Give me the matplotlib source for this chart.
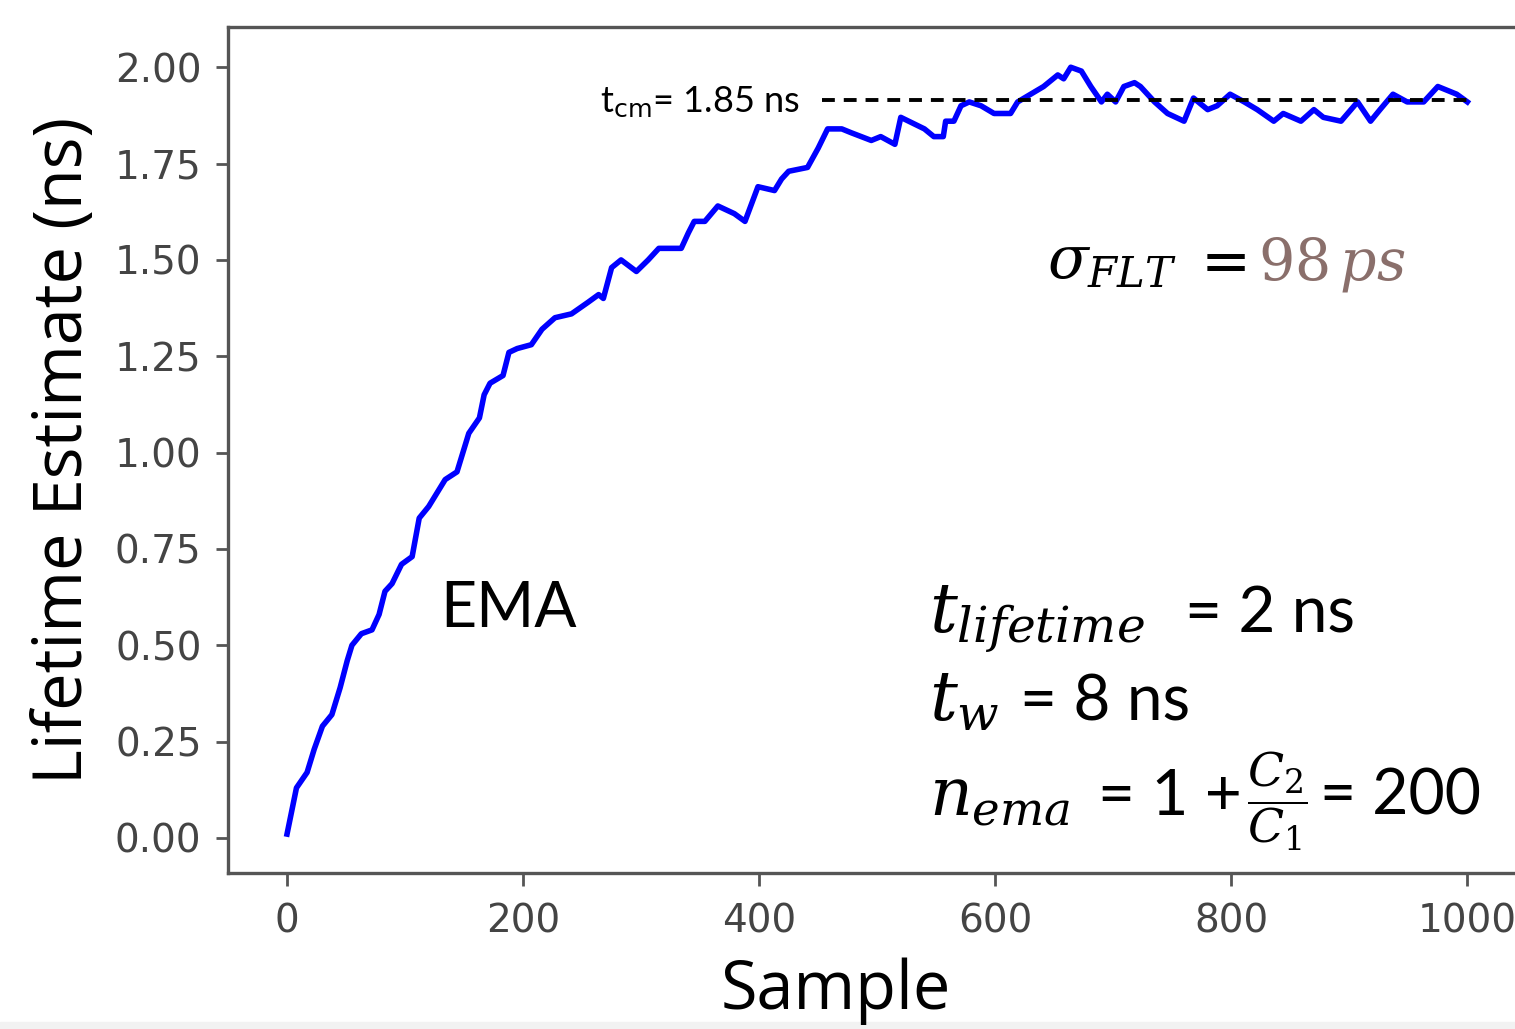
import matplotlib.pyplot as plt
from matplotlib.patches import Rectangle

# EMA lifetime estimate
sample = [0, 8, 17, 23, 30, 38, 45, 51, 55, 63,
          72, 78, 83, 89, 97, 106, 112, 120, 134, 144,
          150, 154, 163, 167, 172, 183, 188, 195, 207, 216,
          227, 241, 255, 264, 268, 275, 283, 296, 306, 315,
          323, 334, 340, 345, 354, 365, 379, 388, 399, 413,
          419, 425, 441, 450, 458, 470, 478, 495, 503, 515,
          520, 540, 548, 556, 558, 565, 571, 578, 588, 599,
          613, 619, 630, 641, 653, 658, 664, 673, 681, 690,
          695, 702, 709, 718, 723, 735, 746, 760, 768, 780,
          788, 799, 811, 822, 836, 844, 859, 870, 878, 893,
          907, 918, 926, 937, 949, 963, 975, 983, 991, 1000]
lifetime = [0.01, 0.13, 0.17, 0.23, 0.29, 0.32, 0.39, 0.46, 0.50, 0.53,
            0.54, 0.58, 0.64, 0.66, 0.71, 0.73, 0.83, 0.86, 0.93, 0.95,
            1.01, 1.05, 1.09, 1.15, 1.18, 1.20, 1.26, 1.27, 1.28, 1.32,
            1.35, 1.36, 1.39, 1.41, 1.40, 1.48, 1.50, 1.47, 1.50, 1.53,
            1.53, 1.53, 1.57, 1.60, 1.60, 1.64, 1.62, 1.60, 1.69, 1.68,
            1.71, 1.73, 1.74, 1.79, 1.84, 1.84, 1.83, 1.81, 1.82, 1.80,
            1.87, 1.84, 1.82, 1.82, 1.86, 1.86, 1.90, 1.91, 1.90, 1.88,
            1.88, 1.91, 1.93, 1.95, 1.98, 1.97, 2.00, 1.99, 1.95, 1.91,
            1.93, 1.91, 1.95, 1.96, 1.95, 1.91, 1.88, 1.86, 1.92, 1.89,
            1.90, 1.93, 1.91, 1.89, 1.86, 1.88, 1.86, 1.89, 1.87, 1.86,
            1.91, 1.86, 1.89, 1.93, 1.91, 1.91, 1.95, 1.94, 1.93, 1.91]

# dashed reference level
ref_start = 453
ref_end = 1000
ref_level = 1.914

xticks = [0, 200, 400, 600, 800, 1000]
yticks = [0.00, 0.25, 0.50, 0.75, 1.00, 1.25, 1.50, 1.75, 2.00]

plt.rcParams['mathtext.fontset'] = 'dejavuserif'

fig = plt.figure(figsize=(15.15, 10.29), dpi=100)
ax = fig.add_axes([0.1505, 0.1516, 0.857, 0.822])

ax.plot(sample, lifetime, color="#0000ff", linewidth=4)
ax.plot([ref_start, ref_end], [ref_level, ref_level], color="black",
        linewidth=2.8, linestyle=(0, (3.3, 2.3)))

ax.set_xlim(-50, 1050)
ax.set_ylim(-0.091, 2.104)
ax.set_xticks(xticks)
ax.set_yticks(yticks)
ax.set_yticklabels(["%.2f" % y for y in yticks])

for sp in ax.spines.values():
    sp.set_color("#555555")
    sp.set_linewidth(2.4)
ax.tick_params(axis="both", length=9, width=2, color="#555555",
               labelsize=28, labelcolor="#444444")
ax.tick_params(axis="y", pad=10)
ax.tick_params(axis="x", pad=12)

ax.set_xlabel("Sample", fontsize=48, family="Open Sans")
ax.set_ylabel("Lifetime Estimate (ns)", fontsize=48, family="Open Sans")
ax.xaxis.set_label_coords(0.468, -0.1)
ax.yaxis.set_label_coords(-0.1, 0.5)

# annotations
ax.text(265, 1.885, r"t$_{\mathsf{cm}}$= 1.85 ns", fontsize=26, family="Lato",
        va="baseline")
ax.text(130, 0.548, "EMA", fontsize=45, family="Lato", va="baseline")
ax.text(644, 1.45, r"$\sigma_{FLT}$", fontsize=43, va="baseline")
ax.text(764, 1.45, r"$=$", fontsize=43, va="baseline")
ax.text(823, 1.45, r"$98\,ps$", fontsize=41, va="baseline", color="#8a6f6b")

ax.text(544, 0.534, r"$t_{lifetime}$", fontsize=50, va="baseline")
ax.text(761, 0.534, "= 2 ns", fontsize=46, family="Lato", va="baseline")
ax.text(544, 0.306, r"$t_w$", fontsize=50, va="baseline")
ax.text(621, 0.306, "= 8 ns", fontsize=46, family="Lato", va="baseline")
ax.text(544, 0.06, r"$n_{ema}$", fontsize=48, va="baseline")
ax.text(687, 0.06, "= 1 +", fontsize=46, family="Lato", va="baseline")
ax.text(813, 0.06, r"$\dfrac{C_2}{C_1}$", fontsize=34, va="baseline")
ax.text(875, 0.06, "= 200", fontsize=45, family="Lato", va="baseline")

# light strip along the bottom edge
fig.patches.append(Rectangle((0, 0), 1, 0.007, transform=fig.transFigure,
                             color="#f2f2f2", zorder=-1))

fig.savefig("out.png", dpi=100)
